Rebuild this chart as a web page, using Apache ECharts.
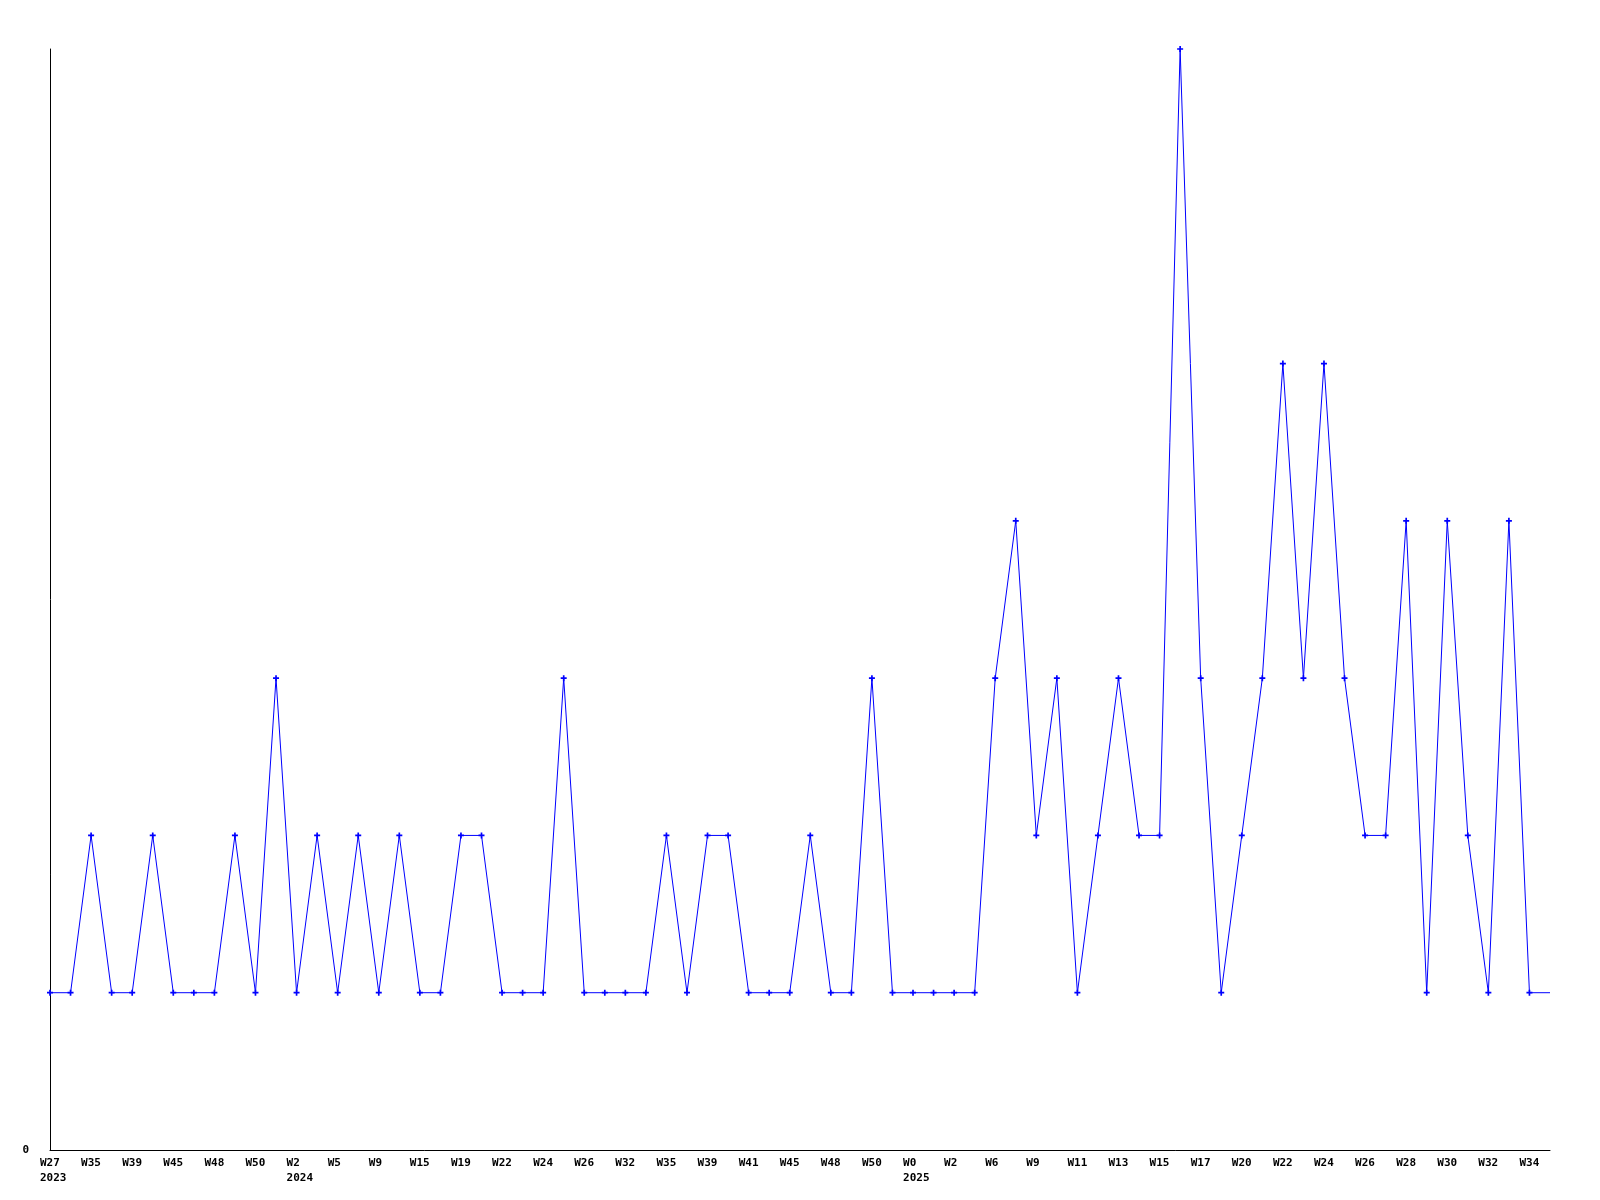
<!DOCTYPE html>
<html>
<head>
<meta charset="utf-8">
<script src="https://cdn.jsdelivr.net/npm/echarts@6/dist/echarts.min.js"></script>
<style>html,body{margin:0;padding:0;background:#fff}#c{width:1600px;height:1200px}</style>
</head>
<body>
<div id="c"></div>
<script>
const weeks = [
  "W27\n2023","W31","W35","W37","W39","W42","W45","W46","W48","W49",
  "W50","W51","W2\n2024","W3","W5","W7","W9","W12","W15","W17",
  "W19","W20","W22","W23","W24","W25","W26","W29","W32","W33",
  "W35","W37","W39","W40","W41","W43","W45","W47","W48","W49",
  "W50","W51","W0\n2025","W1","W2","W4","W6","W7","W9","W10",
  "W11","W12","W13","W14","W15","W16","W17","W18","W20","W21",
  "W22","W23","W24","W25","W26","W27","W28","W29","W30","W31",
  "W32","W33","W34","W35"
];
const counts = [
  1,1,2,1,1,2,1,1,1,2,
  1,3,1,2,1,2,1,2,1,1,
  2,2,1,1,1,3,1,1,1,1,
  2,1,2,2,1,1,1,2,1,1,
  3,1,1,1,1,1,3,4,2,3,
  1,2,3,2,2,7,3,1,2,3,
  5,3,5,3,2,2,4,1,4,2,
  1,4,1,1
];
const yMin = 0, yMax = 7;

const chart = echarts.init(document.getElementById('c'), null, {renderer: 'canvas'});
const plus = 'path://M1.8,0 H3.2 V1.8 H5 V3.2 H3.2 V5 H1.8 V3.2 H0 V1.8 H1.8 Z';
chart.setOption({
  animation: false,
  backgroundColor: '#ffffff',
  grid: {left: 50, right: 50, top: 49, bottom: 50, containLabel: false},
  xAxis: {
    type: 'category',
    data: weeks,
    boundaryGap: false,
    axisLine: {lineStyle: {color: '#000', width: 1}},
    axisTick: {show: false},
    splitLine: {show: false},
    axisLabel: {
      interval: 1,
      align: 'left',
      padding: [0, 0, 0, -10],
      margin: 6,
      lineHeight: 15,
      color: '#000',
      fontFamily: 'DejaVu Sans Mono',
      fontWeight: 'bold',
      fontSize: 11
    }
  },
  yAxis: {
    type: 'value',
    min: yMin,
    max: yMax,
    interval: 7,
    axisLine: {show: true, lineStyle: {color: '#000', width: 1}},
    axisTick: {show: false},
    splitLine: {show: false},
    axisLabel: {
      color: '#000',
      fontFamily: 'DejaVu Sans Mono',
      fontWeight: 'bold',
      fontSize: 11,
      margin: 21,
      formatter: v => v === 0 ? '0' : ''
    }
  },
  series: [{
    type: 'line',
    data: counts.map((v, i) => i === counts.length - 1 ? {value: v, symbol: 'none'} : v),
    symbol: plus,
    symbolSize: 6,
    showAllSymbol: true,
    lineStyle: {color: '#0000ff', width: 1},
    itemStyle: {color: '#0000ff'},
    clip: false
  }]
});
</script>
</body>
</html>
